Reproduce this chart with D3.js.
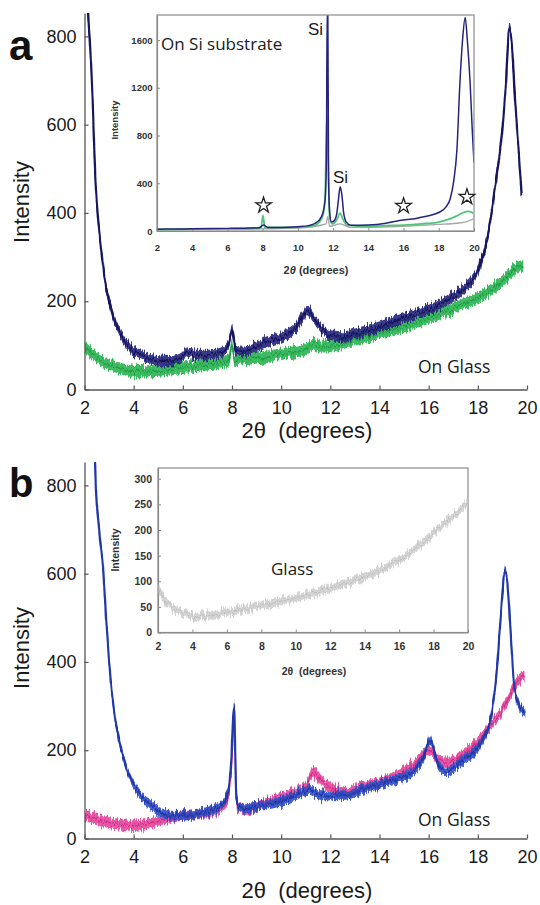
<!DOCTYPE html>
<html>
<head>
<meta charset="utf-8">
<script src="https://cdn.jsdelivr.net/npm/d3@7"></script>
<style>
body{margin:0;background:#fff;}
svg{display:block;font-family:"Liberation Sans",Arial,sans-serif;}
</style>
</head>
<body>
<svg id="chart" width="540" height="905"></svg>
<script>
// ---- data: [2theta, intensity] ----
// panel a, main plot (on glass)
const aBlue = [[2.05,950],[2.15,850],[2.3,700],[2.45,470],[2.6,360],[2.8,260],[3.0,200],[3.2,160],[3.45,127],[3.7,105],[3.95,88],[4.3,78],[4.6,70],[5.0,66],[5.5,64],[5.9,70],[6.2,84],[6.6,78],[7.0,78],[7.5,82],[7.85,100],[8.0,135],[8.15,90],[8.4,85],[9.0,97],[9.5,108],[10.0,120],[10.5,135],[10.9,165],[11.1,178],[11.3,165],[11.6,140],[12.0,122],[12.5,120],[13.0,126],[13.5,134],[14.0,142],[14.5,152],[15.0,162],[15.5,172],[16.0,182],[16.5,194],[17.0,210],[17.5,232],[18.0,270],[18.3,320],[18.5,380],[18.7,460],[18.9,540],[19.0,590],[19.15,700],[19.28,820],[19.4,770],[19.5,670],[19.65,550],[19.78,440]];
const aGreen = [[2.0,97],[2.5,72],[3.0,57],[3.5,47],[4.0,41],[4.5,40],[5.0,42],[5.5,45],[6.0,48],[6.5,52],[7.0,56],[7.5,60],[7.85,64],[8.0,100],[8.1,66],[8.5,68],[9.0,72],[9.5,76],[10.0,80],[10.5,85],[11.0,92],[11.3,102],[11.6,96],[12.0,98],[12.5,104],[13.0,112],[13.5,120],[14.0,127],[14.5,135],[15.0,143],[15.5,152],[16.0,162],[16.5,172],[17.0,183],[17.5,196],[18.0,208],[18.5,225],[19.0,245],[19.3,262],[19.6,278],[19.85,282]];
// panel a, inset (on Si substrate)
const iaBlue = [[2,15],[3,17],[4,18],[5,20],[6,22],[7,24],[7.8,28],[8.05,50],[8.3,30],[9,30],[10,36],[10.6,45],[11.0,65],[11.3,110],[11.45,170],[11.55,270],[11.62,600],[11.66,1850],[11.7,1850],[11.74,450],[11.8,170],[11.9,75],[12.05,85],[12.2,140],[12.3,260],[12.4,370],[12.5,300],[12.6,150],[12.75,75],[13,48],[14,50],[15,65],[15.5,80],[16,92],[16.5,100],[17,115],[17.5,130],[18,155],[18.4,200],[18.65,270],[18.85,420],[19.03,680],[19.2,1240],[19.35,1600],[19.5,1790],[19.62,1600],[19.78,1240],[19.9,850],[20,570]];
const iaGreen = [[2,12],[4,15],[6,18],[7.9,25],[8.02,130],[8.12,30],[10,30],[11,50],[11.4,120],[11.55,300],[11.64,960],[11.72,600],[11.8,120],[11.95,60],[12.2,90],[12.4,150],[12.55,100],[12.8,50],[14,40],[15,45],[16,50],[17,60],[18,75],[18.5,95],[19,125],[19.4,155],[19.7,165],[20,145]];
const iaGrey = [[2,10],[6,15],[10,25],[11.6,60],[11.7,120],[11.8,40],[12.4,60],[13,30],[16,40],[18,55],[19,65],[19.5,75],[20,105]];
const iaStars = [[8.05,215],[16.0,210],[19.6,285]];
// panel b, main plot (on glass)
const bBlue = [[2.4,900],[2.46,800],[2.6,700],[2.77,600],[2.9,480],[3.0,400],[3.2,290],[3.44,215],[3.65,170],[3.85,138],[4.13,110],[4.5,85],[4.86,70],[5.2,58],[5.56,52],[6.0,52],[6.5,55],[6.95,60],[7.3,66],[7.65,79],[7.85,110],[7.97,177],[8.08,300],[8.18,90],[8.35,68],[9.0,72],[9.74,80],[10.5,95],[11.13,110],[11.5,100],[11.83,97],[12.53,98],[13.2,108],[13.92,120],[14.6,133],[15.32,150],[15.8,185],[16.05,225],[16.4,165],[16.7,152],[17.4,177],[18.1,215],[18.5,267],[18.8,400],[19.0,555],[19.1,610],[19.2,580],[19.3,500],[19.5,335],[19.7,300],[19.93,285]];
const bPink = [[2.0,52],[2.5,42],[3.0,36],[3.5,32],[4.0,29],[4.5,33],[5.0,41],[5.5,47],[6.0,52],[6.5,55],[7.0,58],[7.5,66],[7.8,85],[8.0,180],[8.08,290],[8.2,75],[8.5,65],[9.0,72],[9.5,82],[10.0,92],[10.5,104],[11.0,118],[11.3,150],[11.7,128],[12.0,118],[12.5,104],[13.0,112],[13.5,118],[14.0,126],[14.5,137],[15.0,152],[15.5,172],[16.0,200],[16.4,178],[17.0,176],[17.5,195],[18.0,218],[18.5,255],[19.0,292],[19.3,322],[19.6,355],[19.9,370]];
// panel b, inset (bare glass)
const ibGlass = [[2.0,87],[2.3,68],[2.76,50],[3.2,41],[3.56,36],[4.06,31],[5.0,34],[6.0,40],[7.0,46],[8.0,53],[9.0,60],[10.0,67],[11.0,76],[12.0,87],[13.0,98],[14.0,109],[15.0,123],[16.0,141],[17.0,165],[18.0,194],[19.0,224],[20.0,253]];
// ticks
const mainXTicks = [2,4,6,8,10,12,14,16,18,20];
const mainYTicks = [0,200,400,600,800];
const insetXTicks = [2,4,6,8,10,12,14,16,18,20];
const iaYTicks = [0,400,800,1200,1600];
const ibYTicks = [0,50,100,150,200,250,300];

let svg = d3.select("#chart");

let x = d3.scaleLinear().domain([2, 20]).range([84.5, 527]);
let yA = d3.scaleLinear().domain([0, 853]).range([389.5, 13]);
let yB = d3.scaleLinear().domain([0, 853]).range([838.5, 462]);

let xIA = d3.scaleLinear().domain([2, 20]).range([157, 474]);
let yIA = d3.scaleLinear().domain([0, 1810]).range([231, 15]);
let xIB = d3.scaleLinear().domain([2, 20]).range([158, 468]);
let yIB = d3.scaleLinear().domain([0, 321]).range([632.5, 468]);

let defs = svg.append("defs");
function clip(id, x0, y0, x1, y1) {
  defs.append("clipPath").attr("id", id).append("rect")
    .attr("x", x0).attr("y", y0).attr("width", x1 - x0).attr("height", y1 - y0);
  return "url(#" + id + ")";
}
// ragged edge for the noisy traces (a rendering effect only, data untouched)
// red channel pinned to 0.5 so pixels only move up/down
let rough = defs.append("filter").attr("id", "rough")
  .attr("x", "-2%").attr("y", "-10%").attr("width", "104%").attr("height", "120%");
rough.append("feTurbulence").attr("type", "fractalNoise").attr("baseFrequency", "0.7 0.04")
  .attr("numOctaves", 2).attr("seed", 3).attr("result", "n0");
rough.append("feColorMatrix").attr("in", "n0").attr("type", "matrix")
  .attr("values", "0 0 0 0 0.5  0 1 0 0 0  0 0 1 0 0  0 0 0 0 1").attr("result", "n");
rough.append("feDisplacementMap").attr("in", "SourceGraphic").attr("in2", "n")
  .attr("scale", 11).attr("xChannelSelector", "R").attr("yChannelSelector", "G");

// noisy trace drawn as a band round the read values plus a core line
function band(g, xs, ys, data, s, fill, core, cw) {
  let b = g.append("g").attr("filter", "url(#rough)");
  b.append("path").datum(data)
    .attr("d", d3.area().x(d => xs(d[0])).y0(d => ys(d[1] - s)).y1(d => ys(d[1] + s)).curve(d3.curveMonotoneX))
    .attr("fill", fill).attr("fill-opacity", 0.9);
  b.append("path").datum(data)
    .attr("d", d3.line().x(d => xs(d[0])).y(d => ys(d[1])).curve(d3.curveMonotoneX))
    .attr("fill", "none").attr("stroke", core).attr("stroke-width", cw);
}
function trace(g, xs, ys, data, color, w) {
  g.append("path").datum(data)
    .attr("d", d3.line().x(d => xs(d[0])).y(d => ys(d[1])).curve(d3.curveMonotoneX))
    .attr("fill", "none").attr("stroke", color).attr("stroke-width", w).attr("stroke-linejoin", "round");
}

function mainAxes(y) {
  let gx = svg.append("g").attr("transform", "translate(0," + y(0) + ")")
    .call(d3.axisBottom(x).tickValues(mainXTicks).tickSizeInner(-4).tickSizeOuter(0).tickPadding(12));
  let gy = svg.append("g").attr("transform", "translate(" + x(2) + ",0)")
    .call(d3.axisLeft(y).tickValues(mainYTicks).tickSizeInner(-4).tickSizeOuter(0).tickPadding(8));
  [gx, gy].forEach(g => {
    g.select(".domain").attr("stroke", "#555").attr("stroke-width", 1.3);
    g.selectAll(".tick line").attr("stroke", "#555").attr("stroke-width", 1.2);
    g.selectAll(".tick text").attr("fill", "#1a1a1a").style("font-size", "18px")
      .style("font-family", "'Liberation Sans',Arial,sans-serif");
  });
}

function insetAxes(xs, ys, yticks, fs, padX, padY) {
  let r = xs.range(), q = ys.range();
  svg.append("rect").attr("x", r[0]).attr("y", q[1]).attr("width", r[1] - r[0]).attr("height", q[0] - q[1])
    .attr("fill", "#fff").attr("stroke", "#8a8a8a").attr("stroke-width", 1.2);
  let gx = svg.append("g").attr("transform", "translate(0," + q[0] + ")")
    .call(d3.axisBottom(xs).tickValues(insetXTicks).tickSizeInner(-3).tickSizeOuter(0).tickPadding(padX));
  let gy = svg.append("g").attr("transform", "translate(" + r[0] + ",0)")
    .call(d3.axisLeft(ys).tickValues(yticks).tickFormat(d3.format("d")).tickSizeInner(-3).tickSizeOuter(0).tickPadding(padY));
  [gx, gy].forEach(g => {
    g.select(".domain").attr("stroke", "#8a8a8a").attr("stroke-width", 1.2);
    g.selectAll(".tick line").attr("stroke", "#8a8a8a");
    g.selectAll(".tick text").attr("fill", "#333").style("font-size", fs + "px").style("font-weight", "bold")
      .style("font-family", "'Liberation Sans',Arial,sans-serif");
  });
}

function label(txt, x0, y0, size, opts) {
  opts = opts || {};
  let t = svg.append("text").attr("x", x0).attr("y", y0).text(txt)
    .style("font-size", size + "px").attr("fill", opts.fill || "#1a1a1a")
    .attr("text-anchor", opts.anchor || "start")
    .style("font-family", opts.family || "'Liberation Sans',Arial,sans-serif")
    .style("white-space", "pre");
  if (opts.bold) t.style("font-weight", "bold");
  if (opts.rotate) t.attr("transform", "rotate(-90," + x0 + "," + y0 + ")");
  return t;
}

// ================= panel a =================
let gA = svg.append("g").attr("clip-path", clip("clipA", 84.5, 13, 540, 389.5));
band(gA, x, yA, aGreen, 13, "#27b350", "#1f9c45", 1.4);
band(gA, x, yA, aBlue, 12, "#23237a", "#15155e", 2.2);
mainAxes(yA);

label("On Glass", 418, 373, 17.5, {family: "'Open Sans',sans-serif"});
label("Intensity", 29, 202, 22, {anchor: "middle", rotate: true});
label("2θ  (degrees)", 307, 438, 22, {anchor: "middle"});
label("a", 9, 60, 42, {bold: true, fill: "#111"});

// inset a
insetAxes(xIA, yIA, iaYTicks, 9.5, 13, 4.5);
let gIA = svg.append("g").attr("clip-path", clip("clipIA", 157.5, 15.5, 473.5, 231));
trace(gIA, xIA, yIA, iaGrey, "#a5a5a5", 1.3);
trace(gIA, xIA, yIA, iaGreen, "#52c47a", 1.8);
trace(gIA, xIA, yIA, iaBlue, "#24247c", 1.5);
svg.append("g").selectAll("path").data(iaStars).join("path")
  .attr("transform", d => "translate(" + xIA(d[0]) + "," + yIA(d[1]) + ")")
  .attr("d", d3.symbol(d3.symbolStar, 75))
  .attr("fill", "#fff").attr("stroke", "#222").attr("stroke-width", 1.3).attr("stroke-linejoin", "miter");
label("On Si substrate", 161, 50, 17, {family: "'Open Sans',sans-serif"});
label("Si", 323, 34.5, 17, {anchor: "end"});
label("Si", 333, 183, 17);
label("Intensity", 118, 120, 9.5, {anchor: "middle", rotate: true, bold: true, fill: "#333"});
let tA = label("2", 316, 274, 11, {anchor: "middle", bold: true, fill: "#333"});
tA.append("tspan").style("font-style", "italic").text("θ");
tA.append("tspan").text(" (degrees)");

// ================= panel b =================
let gB = svg.append("g").attr("clip-path", clip("clipB", 84.5, 462, 540, 838.5));
band(gB, x, yB, bPink, 12, "#e3449a", "#cf2f86", 1.4);
band(gB, x, yB, bBlue, 11, "#2f4cc4", "#2039a8", 2.2);
mainAxes(yB);

label("On Glass", 418, 826, 17.5, {family: "'Open Sans',sans-serif"});
label("Intensity", 29, 648, 22, {anchor: "middle", rotate: true});
label("2θ  (degrees)", 307, 898, 22, {anchor: "middle"});
label("b", 9, 497, 40, {bold: true, fill: "#111"});

// inset b
insetAxes(xIB, yIB, ibYTicks, 10.5, 10, 6);
let gIB = svg.append("g").attr("clip-path", clip("clipIB", 158.5, 468.5, 467.5, 632));
band(gIB, xIB, yIB, ibGlass, 8, "#cfcfcf", "#bdbdbd", 1);
label("Glass", 271, 575, 17, {family: "'Open Sans',sans-serif"});
label("Intensity", 119, 550, 10.5, {anchor: "middle", rotate: true, bold: true, fill: "#333"});
label("2θ  (degrees)", 314, 675, 10.5, {anchor: "middle", bold: true, fill: "#333"});
</script>
</body>
</html>
